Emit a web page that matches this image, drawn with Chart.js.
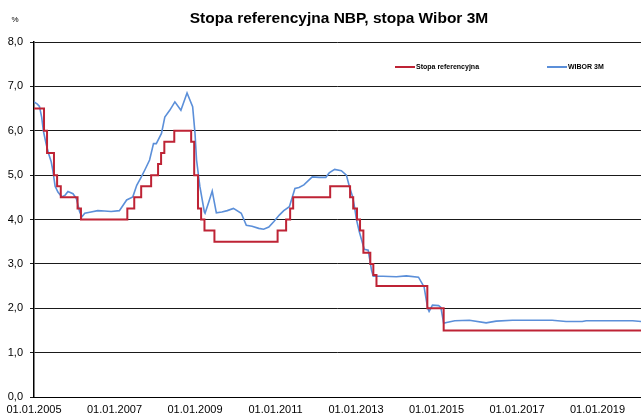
<!DOCTYPE html>
<html>
<head>
<meta charset="utf-8">
<script src="https://cdn.jsdelivr.net/npm/chart.js@4"></script>
<style>
  html, body { margin: 0; padding: 0; background: #fff; }
  #wrap { width: 641px; height: 419px; }
</style>
</head>
<body>
<div id="wrap"><canvas id="rates"></canvas></div>
<script>
// Stopa referencyjna NBP (zmiany) i WIBOR 3M

const refDates = ['2005-01-01', '2005-03-31', '2005-04-28', '2005-06-30', '2005-07-28', '2005-08-31',
  '2006-01-31', '2006-03-01', '2007-04-26', '2007-06-28', '2007-08-30', '2007-11-29',
  '2008-01-31', '2008-02-28', '2008-03-27', '2008-06-26', '2008-11-27', '2008-12-24',
  '2009-01-28', '2009-02-26', '2009-03-26', '2009-06-25', '2011-01-20', '2011-04-06',
  '2011-05-12', '2011-06-09', '2012-05-10', '2012-11-08', '2012-12-06', '2013-01-10',
  '2013-02-07', '2013-03-07', '2013-05-09', '2013-06-06', '2013-07-04', '2014-10-09',
  '2015-03-05', '2020-02-01'];
const refValues = [6.5, 6.0, 5.5, 5.0, 4.75, 4.5,
  4.25, 4.0, 4.25, 4.5, 4.75, 5.0,
  5.25, 5.5, 5.75, 6.0, 5.75, 5.0,
  4.25, 4.0, 3.75, 3.5, 3.75, 4.0,
  4.25, 4.5, 4.75, 4.5, 4.25, 4.0,
  3.75, 3.25, 3.0, 2.75, 2.5, 2.0,
  1.5, 1.5];

const wiborDates = ['2005-01-01', '2005-02-01', '2005-02-20', '2005-03-10', '2005-03-25', '2005-04-20',
  '2005-05-10', '2005-06-05', '2005-06-20', '2005-07-10', '2005-08-05', '2005-09-10',
  '2005-10-10', '2005-11-05', '2005-12-20', '2006-01-20', '2006-02-20', '2006-03-10',
  '2006-04-05', '2006-06-01', '2006-08-01', '2006-10-01', '2006-12-01', '2007-02-15',
  '2007-04-20', '2007-06-15', '2007-07-20', '2007-09-01', '2007-10-01', '2007-11-15',
  '2007-12-20', '2008-01-15', '2008-03-01', '2008-04-01', '2008-05-15', '2008-07-01',
  '2008-08-25', '2008-10-20', '2008-12-10', '2009-01-01', '2009-01-15', '2009-02-15',
  '2009-03-25', '2009-04-01', '2009-05-05', '2009-06-05', '2009-07-12', '2009-09-01',
  '2009-10-20', '2009-12-15', '2010-02-25', '2010-04-10', '2010-06-01', '2010-08-01',
  '2010-09-15', '2010-11-01', '2010-12-15', '2011-02-05', '2011-03-15', '2011-05-05',
  '2011-06-25', '2011-08-01', '2011-09-15', '2011-11-30', '2012-02-01', '2012-04-01',
  '2012-05-01', '2012-06-20', '2012-08-20', '2012-10-05', '2012-11-01', '2012-12-01',
  '2012-12-20', '2013-01-05', '2013-02-01', '2013-03-15', '2013-04-20', '2013-05-20',
  '2013-06-05', '2013-09-01', '2014-01-01', '2014-04-01', '2014-07-20', '2014-09-10',
  '2014-10-12', '2014-10-25', '2014-11-25', '2015-01-20', '2015-02-10', '2015-03-05',
  '2015-04-01', '2015-06-15', '2015-10-25', '2016-03-25', '2016-06-25', '2016-11-20',
  '2017-06-01', '2017-11-15', '2018-03-20', '2018-08-15', '2018-09-20', '2019-11-15',
  '2020-02-01'];
const wiborValues = [6.65, 6.60, 6.55, 6.30, 6.00, 5.70,
  5.50, 5.30, 5.10, 4.75, 4.62, 4.51,
  4.55, 4.63, 4.58, 4.47, 4.17, 4.06,
  4.14, 4.17, 4.20, 4.19, 4.18, 4.20,
  4.44, 4.51, 4.77, 4.96, 5.11, 5.34,
  5.71, 5.71, 5.94, 6.31, 6.46, 6.65,
  6.46, 6.85, 6.54, 5.94, 5.34, 4.74,
  4.17, 4.14, 4.40, 4.64, 4.15, 4.17,
  4.20, 4.25, 4.14, 3.87, 3.85, 3.80,
  3.78, 3.83, 3.95, 4.10, 4.20, 4.29,
  4.70, 4.72, 4.78, 4.96, 4.95, 4.95,
  5.05, 5.13, 5.10, 5.00, 4.75, 4.51,
  4.25, 4.00, 3.72, 3.33, 3.31, 2.86,
  2.72, 2.72, 2.71, 2.73, 2.70, 2.48,
  2.00, 1.93, 2.07, 2.06, 2.02, 1.66,
  1.68, 1.72, 1.73, 1.67, 1.71, 1.73,
  1.73, 1.73, 1.70, 1.70, 1.72, 1.72,
  1.70];

const tickYears = [2005, 2007, 2009, 2011, 2013, 2015, 2017, 2019];
const yTicks = [0, 1, 2, 3, 4, 5, 6, 7, 8];

// data -> ułamek roku
function toYear(s) {
  const p = s.split('-').map(Number);
  return p[0] + (p[1] - 1) / 12 + (p[2] - 1) / 365;
}
const toPoints = (dates, vals) => dates.map((d, i) => ({x: toYear(d), y: vals[i]}));

const FONT = '"Liberation Sans", Arial, sans-serif';

// tytuł, znak % i legenda wewnątrz wykresu
const overlay = {
  id: 'overlay',
  afterDraw(chart) {
    const ctx = chart.ctx;
    ctx.save();
    ctx.fillStyle = '#000';
    ctx.textBaseline = 'middle';
    ctx.textAlign = 'center';
    ctx.font = 'bold 15.5px ' + FONT;
    ctx.fillText('Stopa referencyjna NBP, stopa Wibor 3M', 339, 19);
    ctx.font = '8px ' + FONT;
    ctx.fillText('%', 15, 20);

    ctx.textAlign = 'left';
    ctx.font = 'bold 7px ' + FONT;
    const items = [
      {x: 395, ds: chart.data.datasets[0]},
      {x: 547, ds: chart.data.datasets[1]}
    ];
    items.forEach(it => {
      ctx.strokeStyle = it.ds.borderColor;
      ctx.lineWidth = 2;
      ctx.beginPath();
      ctx.moveTo(it.x, 67);
      ctx.lineTo(it.x + 20, 67);
      ctx.stroke();
      ctx.fillText(it.ds.label, it.x + 21, 67);
    });
    ctx.restore();
  }
};

const ratesGraph = document.getElementById('rates');

const ratesConfig = {
  type: 'line',
  data: {
    datasets: [{
      label: 'Stopa referencyjna',
      data: toPoints(refDates, refValues),
      borderColor: '#BE2335',
      borderWidth: 2,
      stepped: true,
      pointRadius: 0,
      fill: false
    }, {
      label: 'WIBOR 3M',
      data: toPoints(wiborDates, wiborValues),
      borderColor: '#5B8FD9',
      borderWidth: 1.6,
      tension: 0,
      pointRadius: 0,
      fill: false
    }]
  },
  options: {
    responsive: true,
    maintainAspectRatio: false,
    animation: false,
    layout: { padding: { top: 42, right: 0, left: 0, bottom: 0 } },
    plugins: {
      legend: { display: false },
      title: { display: false },
      tooltip: { enabled: false }
    },
    scales: {
      x: {
        type: 'linear',
        min: 2005,
        max: 2020.08,
        afterBuildTicks: s => { s.ticks = tickYears.map(v => ({value: v})); },
        afterFit: s => { s.height = 22; },
        grid: { display: false, drawTicks: false },
        border: { display: true, color: '#000', width: 1 },
        ticks: {
          padding: 6,
          maxRotation: 0,
          autoSkip: false,
          color: '#000',
          font: { family: FONT, size: 11 },
          callback: v => '01.01.' + v
        }
      },
      y: {
        min: 0,
        max: 8,
        afterBuildTicks: s => { s.ticks = yTicks.map(v => ({value: v})); },
        afterFit: s => { s.width = 34; },
        grid: { color: '#1a1a1a', lineWidth: 1, tickLength: 4 },
        border: { display: true, color: '#000', width: 1.5 },
        ticks: {
          padding: 7,
          color: '#000',
          font: { family: FONT, size: 11 },
          callback: v => v.toFixed(1).replace('.', ',')
        }
      }
    }
  },
  plugins: [overlay]
};

new Chart(ratesGraph, ratesConfig);
</script>
</body>
</html>
